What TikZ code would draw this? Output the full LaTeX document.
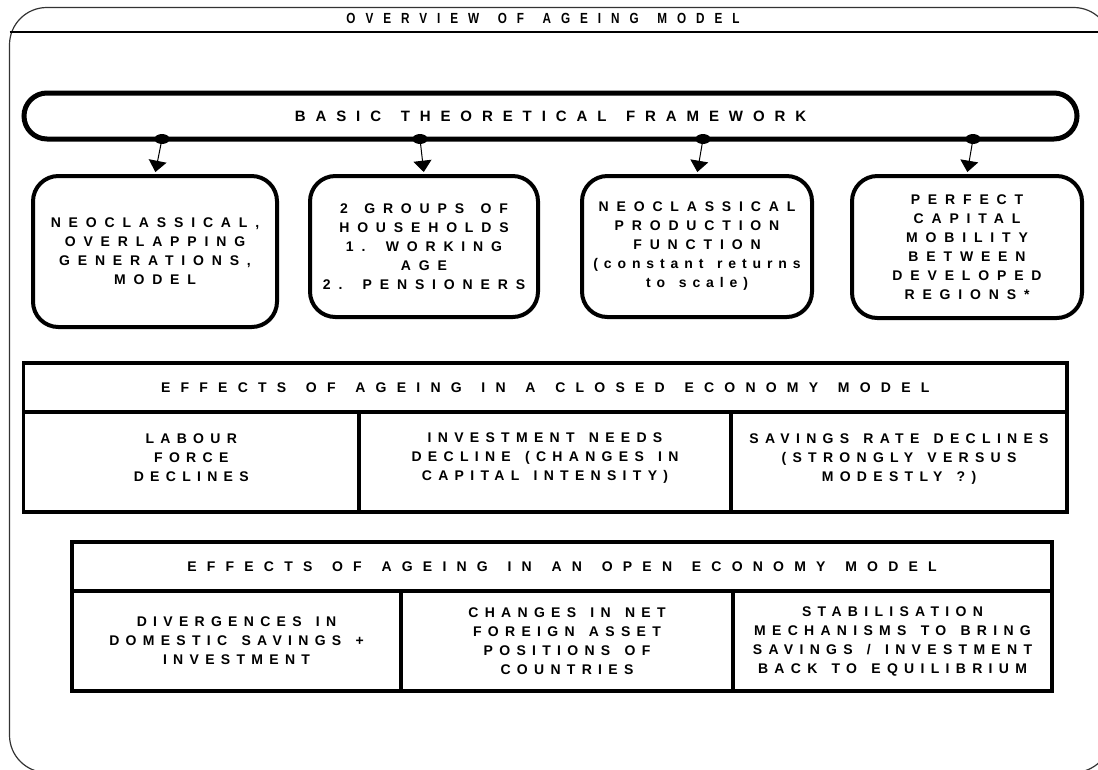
\documentclass[tikz,border=0pt]{standalone}
\usepackage{fontspec}
\setmainfont{Liberation Sans}
% tracked bold faces for the different text groups
\newfontfamily\trackbox{Liberation Sans}[LetterSpace=56,WordSpace=1.4]
\newfontfamily\tracklower{Liberation Sans}[LetterSpace=42,WordSpace=1.4]
\newfontfamily\trackhead{Liberation Sans}[LetterSpace=73,WordSpace=1.4]
\newfontfamily\trackcell{Liberation Sans}[LetterSpace=45,WordSpace=1.4]
\newfontfamily\trackpill{Liberation Sans}[LetterSpace=66,WordSpace=1.4]
\newfontfamily\tracktitle{Liberation Sans}[FakeStretch=0.8,LetterSpace=68,WordSpace=1.4]
\usetikzlibrary{shapes.geometric,arrows.meta,calc}

\begin{document}
\begin{tikzpicture}[x=0.75pt,y=-0.75pt,
  frameline/.style={line width=0.9pt,draw=black!80},
  titletext/.style={inner sep=0pt,font=\tracktitle\bfseries\fontsize{11}{13}\selectfont},
  pillbox/.style={draw,line width=3.75pt,rounded corners=17.25pt,
    minimum width=789.75pt,minimum height=34.5pt,inner sep=0pt,
    font=\trackpill\bfseries\fontsize{11.25}{14}\selectfont},
  dot/.style={ellipse,fill=black,minimum width=11.25pt,minimum height=7.5pt,inner sep=0pt},
  feed/.style={line width=0.75pt,-{Triangle[length=8.5pt,width=13.5pt]},shorten >=1.5pt},
  modelbox/.style={draw,line width=3pt,rounded corners=19pt,align=center,inner sep=0pt,
    font=\trackbox\bfseries\fontsize{10.5}{14.25}\selectfont},
  headcell/.style={draw,line width=2.6pt,inner sep=0pt,minimum height=36.75pt,
    font=\trackhead\bfseries\fontsize{10.5}{14.25}\selectfont},
  bodycell/.style={draw,line width=2.6pt,inner sep=0pt,minimum height=75pt},
  celltext/.style={inner sep=0pt,align=center,
    font=\trackcell\bfseries\fontsize{10.5}{14.25}\selectfont}
]
\useasboundingbox (0,0) rectangle (1098,769);

% outer frame with its title strip
\begin{scope}
  \clip (0,0) rectangle (1098,769);
  \draw[frameline,rounded corners=28pt] (9.5,7.5) rectangle (1111,772.5);
  \draw[line width=1.1pt] (9.5,32) -- (1098,32);
\end{scope}
\node[titletext] (title) at (543,18) {OVERVIEW OF AGEING MODEL};

% theoretical framework bar
\node[pillbox] (frame) at (550.5,116) {BASIC THEORETICAL FRAMEWORK};

\node[dot] (d1) at (162,139) {};
\node[dot] (d2) at (420,139) {};
\node[dot] (d3) at (703,139) {};
\node[dot] (d4) at (973,139) {};

% model assumptions
\node[modelbox,minimum width=183pt,minimum height=113.25pt] (b1) at (155,251.5)
  {NEOCLASSICAL,\\OVERLAPPING\\GENERATIONS,\\MODEL};
\node[modelbox,minimum width=171pt,minimum height=105.75pt] (b2) at (424,246.5)
  {2 GROUPS OF\\HOUSEHOLDS\\1. WORKING\\AGE\\2. PENSIONERS};
\node[modelbox,minimum width=172.5pt,minimum height=105.75pt] (b3) at (697,246.5)
  {NEOCLASSICAL\\PRODUCTION\\FUNCTION\\{\tracklower (constant returns}\\{\tracklower to scale)}};
\node[modelbox,minimum width=172.5pt,minimum height=106.5pt] (b4) at (967,247)
  {PERFECT\\CAPITAL\\MOBILITY\\BETWEEN\\DEVELOPED\\REGIONS*};

\draw[feed] (d1.center) -- (b1.north);
\draw[feed] (d2.center) -- (b2.north);
\draw[feed] (d3.center) -- (b3.north);
\draw[feed] (d4.center) -- (b4.north);

% closed economy table
\node[headcell,minimum width=782.6pt] (h1) at (545.25,387.5)
  {EFFECTS OF AGEING IN A CLOSED ECONOMY MODEL};
\node[bodycell,minimum width=251.6pt] (c11) at (191.25,462) {};
\node[bodycell,minimum width=279pt] (c12) at (545,462) {};
\node[bodycell,minimum width=252pt] (c13) at (899,462) {};
\node[celltext] (t11) at ($(c11.center)+(0,-4)$) {LABOUR\\FORCE\\DECLINES};
\node[celltext] (t12) at ($(c12.center)+(0,-4)$)
  {INVESTMENT NEEDS\\DECLINE (CHANGES IN\\CAPITAL INTENSITY)};
\node[celltext] (t13) at ($(c13.center)+(0,-3)$)
  {SAVINGS RATE DECLINES\\(STRONGLY VERSUS\\MODESTLY ?)};

% open economy table
\node[headcell,minimum width=735pt] (h2) at (562,566.5)
  {EFFECTS OF AGEING IN AN OPEN ECONOMY MODEL};
\node[bodycell,minimum width=246.75pt] (c21) at (236.5,641) {};
\node[bodycell,minimum width=249pt] (c22) at (567,641) {};
\node[bodycell,minimum width=239.25pt] (c23) at (892.5,641) {};
\node[celltext] (t21) at (c21.center)
  {DIVERGENCES IN\\DOMESTIC SAVINGS +\\INVESTMENT};
\node[celltext] (t22) at (c22.center)
  {CHANGES IN NET\\FOREIGN ASSET\\POSITIONS OF\\COUNTRIES};
\node[celltext] (t23) at (c23.center)
  {STABILISATION\\MECHANISMS TO BRING\\SAVINGS / INVESTMENT\\BACK TO EQUILIBRIUM};
\end{tikzpicture}
\end{document}
